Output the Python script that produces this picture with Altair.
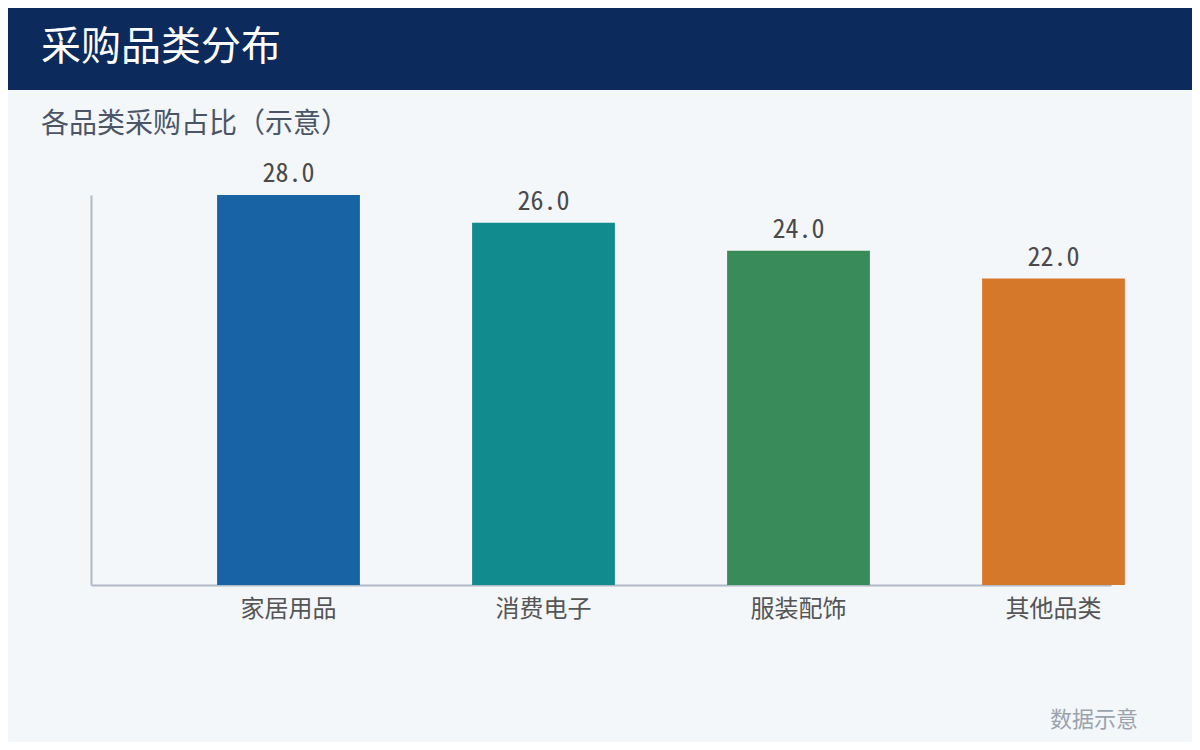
import altair as alt
import pandas as pd

categories = ["家居用品", "消费电子", "服装配饰", "其他品类"]
values = [28.0, 26.0, 24.0, 22.0]
bar_colors = ["#1763a3", "#128b8e", "#3a8b5a", "#d6782a"]

FONT = "Noto Sans CJK SC"
MONO = "Noto Sans Mono CJK SC"
df = pd.DataFrame({"category": categories, "value": values, "color": bar_colors})

W, H = 1020, 390
PAD_L, PAD_T = 83, 187

x_enc = alt.X("category:N", sort=categories,
              scale=alt.Scale(paddingInner=0.44, paddingOuter=0.22),
              axis=alt.Axis(title=None, labelAngle=0, ticks=False, labelFontSize=24,
                            labelColor="#555555", labelFont=FONT, labelPadding=12,
                            labelOffset=70, domainColor="#b0bac6", domainWidth=2))
y_enc = alt.Y("value:Q", scale=alt.Scale(domain=[0, 28], nice=False, zero=True),
              axis=alt.Axis(title=None, labels=False, ticks=False, grid=False,
                            domainColor="#b0bac6", domainWidth=2))

bars = alt.Chart(df).mark_bar(xOffset=70).encode(
    x=x_enc, y=y_enc,
    color=alt.Color("color:N", scale=None),
)
labels = alt.Chart(df).mark_text(xOffset=70, dy=-13, baseline="alphabetic", fontSize=26,
                                 font=MONO, color="#4a4a4a").encode(
    x=alt.X("category:N", sort=categories), y="value:Q",
    text=alt.Text("value:Q", format=".1f"),
)

deco = pd.DataFrame({"k": [0]})
header = alt.Chart(deco).mark_rect(color="#0c2a5b").encode(
    x=alt.value(-PAD_L), x2=alt.value(W + 81), y=alt.value(-PAD_T - 8), y2=alt.value(-105))
title = alt.Chart(deco).mark_text(text="采购品类分布", align="left", baseline="middle",
                                  fontSize=40, font=FONT, color="#ffffff").encode(
    x=alt.value(-50), y=alt.value(-147.5))
subtitle = alt.Chart(deco).mark_text(text="各品类采购占比（示意）", align="left", baseline="middle",
                                     fontSize=28, font=FONT, color="#4a5566").encode(
    x=alt.value(-50), y=alt.value(-70))
footer = alt.Chart(deco).mark_text(text="数据示意", align="right", baseline="middle",
                                   fontSize=22, font=FONT, color="#9aa3ad").encode(
    x=alt.value(1047), y=alt.value(525))

chart = alt.layer(header, title, subtitle, footer, bars, labels).resolve_scale(x="shared").properties(
    width=W, height=H,
    autosize=alt.AutoSizeParams(type="none"),
    padding={"left": PAD_L, "top": PAD_T, "right": 81, "bottom": 157},
    background="#f4f7fa",
).configure_view(stroke=None)

chart.save("out.html", embed_options={"renderer": "svg", "actions": False})
